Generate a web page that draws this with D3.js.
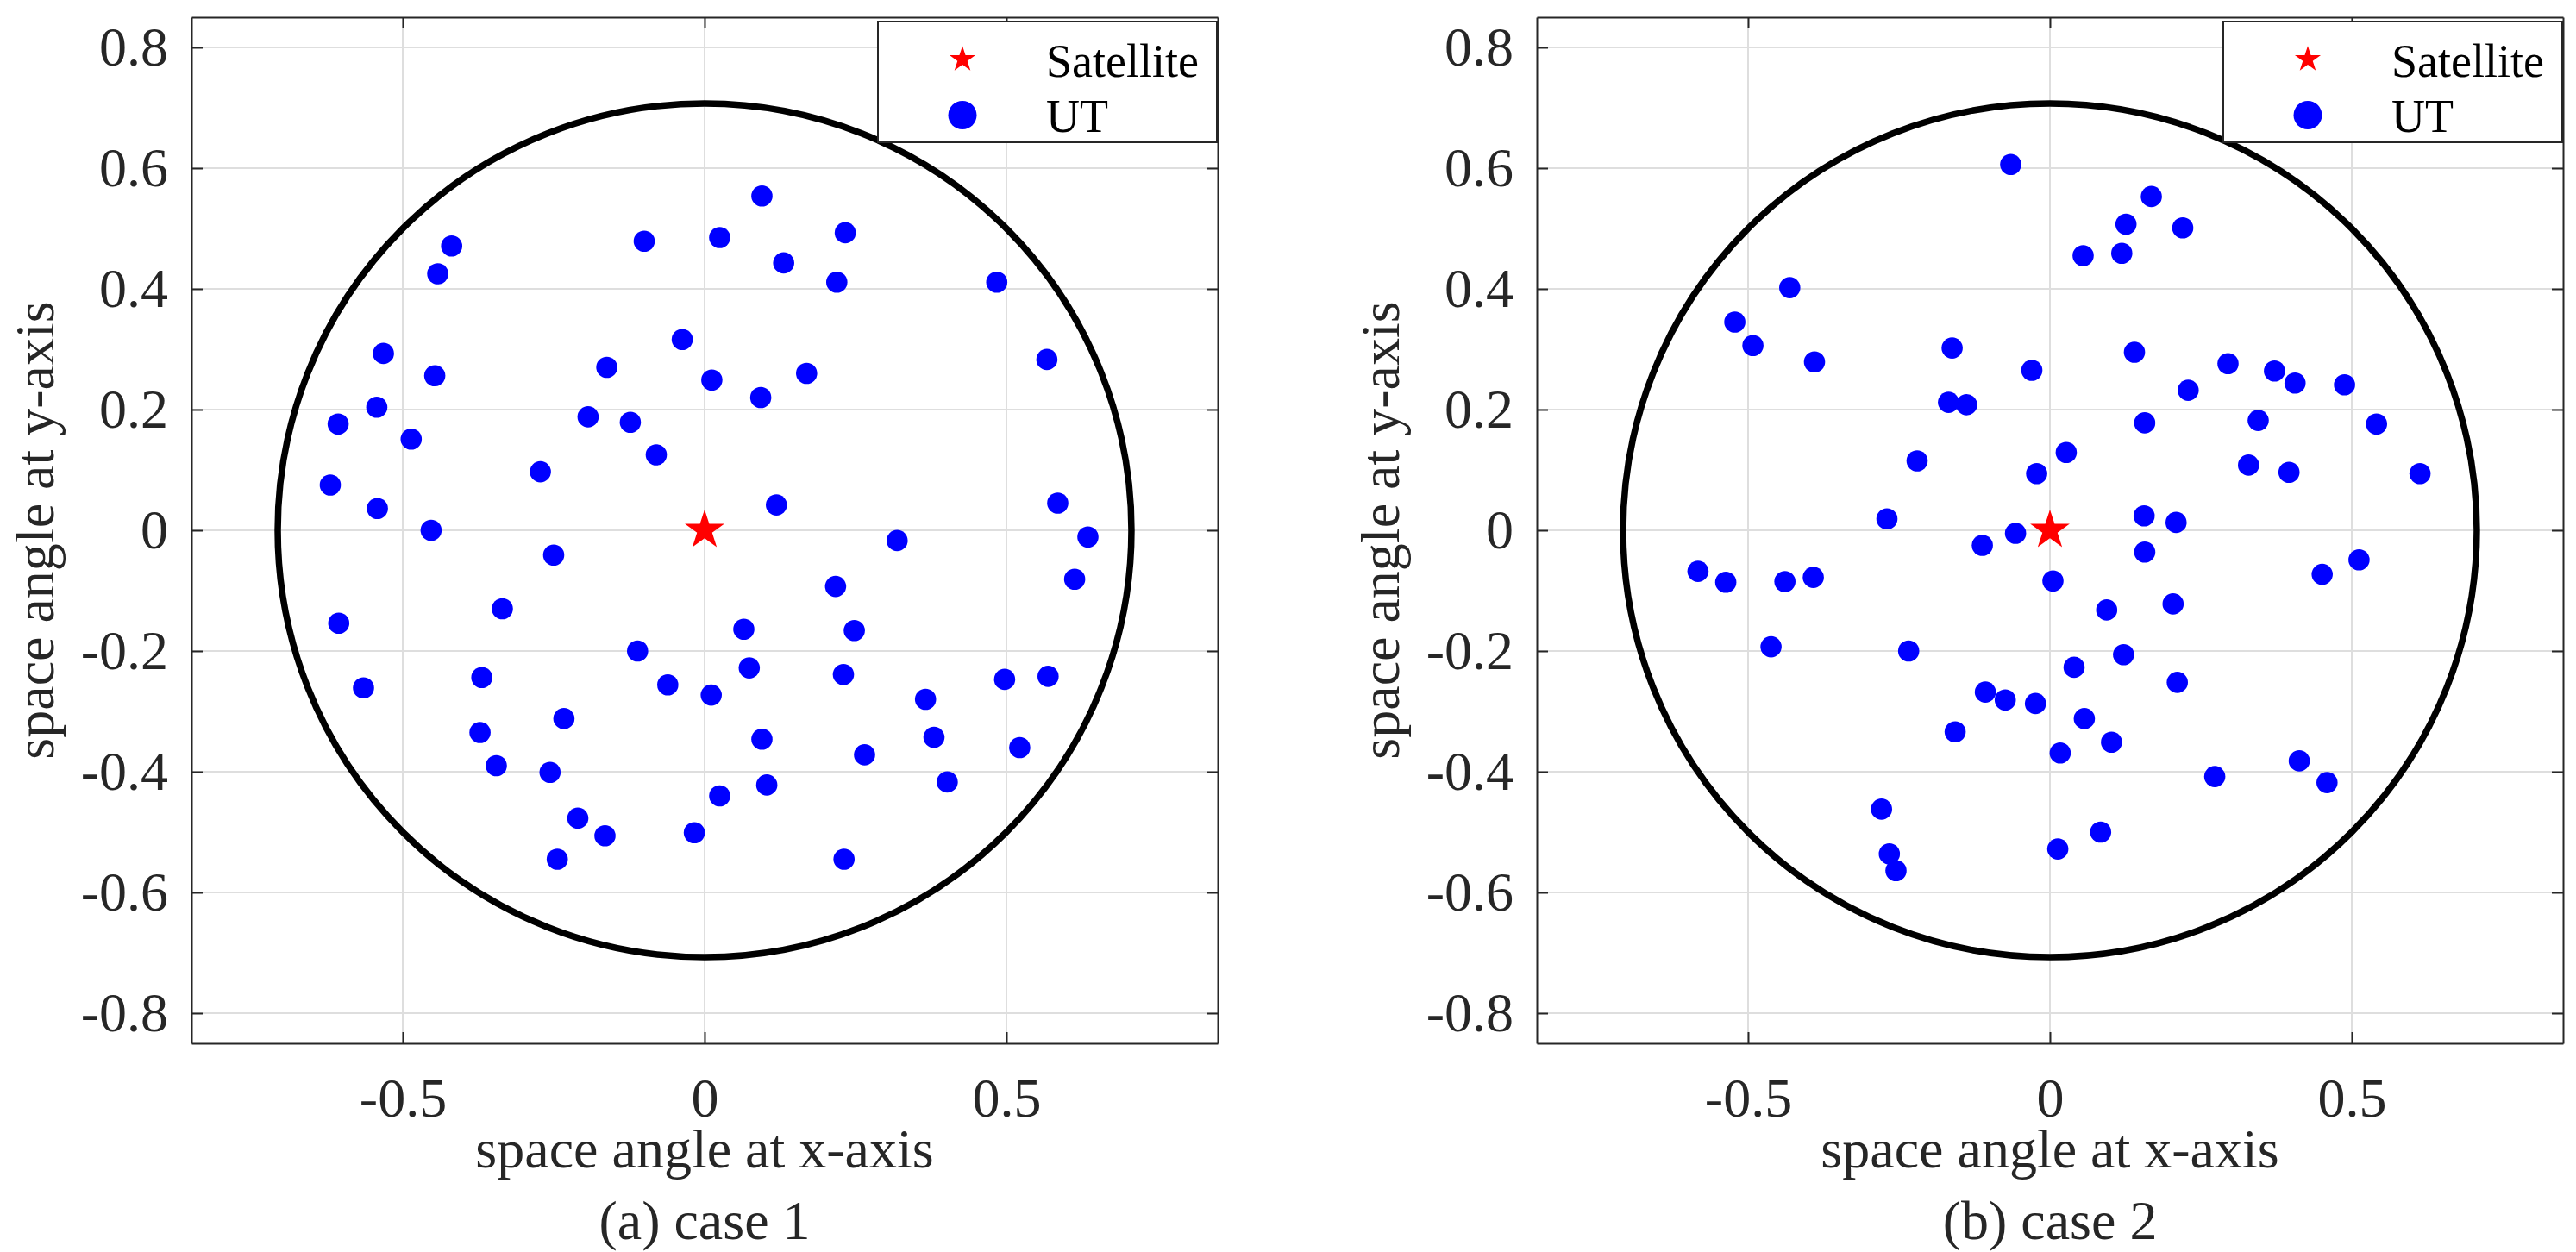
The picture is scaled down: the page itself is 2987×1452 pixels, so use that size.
<!doctype html>
<html>
<head>
<meta charset="utf-8">
<title>space angle</title>
<script src="https://cdn.jsdelivr.net/npm/d3@7"></script>
<style>
  body { margin:0; background:#fff; }
  svg { display:block; font-family:"Liberation Serif","Times New Roman",serif; }
  .grid { stroke:#dedede; stroke-width:2px; }
  .cover { fill:none; stroke:#000; stroke-width:7.5px; }
  .ut { fill:#0000ff; }
  .sat { fill:#ff0000; }
  .axis { color:#262626; }
  .axis path, .axis line { stroke-width:2px; }
  .axis text { font-family:"Liberation Serif","Times New Roman",serif; font-size:64px; }
  .title { font-size:64px; fill:#262626; }
  .legend rect { fill:#fff; stroke:#262626; stroke-width:2px; }
  .legend text { font-size:54px; fill:#000; }
</style>
</head>
<body>
<svg id="fig" width="2987" height="1452"></svg>
<script>

// 축, 눈금
var axisRange = [-0.85, 0.85]
var xTickValues = [-0.5, 0, 0.5]
var xTickLabels = ["-0.5", "0", "0.5"]
var yTickValues = [-0.8, -0.6, -0.4, -0.2, 0, 0.2, 0.4, 0.6, 0.8]
var yTickLabels = ["-0.8", "-0.6", "-0.4", "-0.2", "0", "0.2", "0.4", "0.6", "0.8"]
var xLabel = "space angle at x-axis"
var yLabel = "space angle at y-axis"
var captions = ["(a) case 1", "(b) case 2"]
var legendLabels = ["Satellite", "UT"]

// 위성 위치, 커버리지 반경
var satellitePos = [0, 0]
var coverageRadius = 0.7071

// case 1 UT
var case1X = [-0.419, -0.442, -0.100, -0.037, -0.532, -0.447, -0.162, -0.543, -0.607, -0.486, -0.193, -0.123, -0.080, -0.272, -0.620, -0.542, -0.453,
              0.095, 0.025, 0.233, 0.131, 0.219, 0.484, 0.567, 0.012, 0.169, 0.093, 0.119, 0.585,
              -0.250, -0.335, -0.606, -0.111, -0.369, -0.565, -0.061, -0.233, -0.372, -0.345, -0.256, -0.210, -0.165, -0.244, -0.017,
              0.319, 0.635, 0.217, 0.613, 0.065, 0.248, 0.074, 0.230, 0.011, 0.497, 0.569, 0.366, 0.095, 0.380, 0.265, 0.522, 0.025, 0.103, 0.402, 0.231]
var case1Y = [0.471, 0.425, 0.479, 0.316, 0.293, 0.256, 0.270, 0.204, 0.176, 0.151, 0.188, 0.179, 0.125, 0.097, 0.075, 0.036, 0.000,
              0.554, 0.485, 0.493, 0.443, 0.411, 0.411, 0.283, 0.249, 0.260, 0.220, 0.042, 0.045,
              -0.041, -0.130, -0.154, -0.200, -0.244, -0.261, -0.256, -0.312, -0.335, -0.390, -0.401, -0.477, -0.506, -0.545, -0.501,
              -0.017, -0.011, -0.093, -0.081, -0.164, -0.166, -0.228, -0.239, -0.273, -0.247, -0.242, -0.280, -0.346, -0.343, -0.372, -0.360, -0.440, -0.422, -0.417, -0.545]

// case 2 UT
var case2X = [-0.065, 0.168, 0.126, 0.220, 0.055, 0.119, -0.431, -0.522, -0.492, -0.390, -0.162, -0.030, 0.140, 0.295, 0.372, 0.406,
              0.488, 0.229, -0.168, -0.138, 0.345, 0.157, 0.541, -0.220, 0.027, -0.022, 0.329, 0.396, 0.613, -0.270, 0.156, 0.209,
              -0.057, -0.112, 0.157, 0.512, -0.583, -0.537, -0.439, -0.392, 0.005, 0.451, 0.094, 0.204, -0.462, -0.234, 0.122, 0.040,
              0.211, -0.107, -0.074, -0.024, -0.157, 0.057, 0.102, 0.017, 0.273, 0.413, 0.459, -0.279, -0.266, -0.255, 0.084, 0.013]
var case2Y = [0.606, 0.553, 0.507, 0.501, 0.455, 0.459, 0.402, 0.345, 0.306, 0.279, 0.302, 0.265, 0.295, 0.276, 0.264, 0.244,
              0.241, 0.232, 0.212, 0.208, 0.182, 0.178, 0.176, 0.115, 0.129, 0.094, 0.108, 0.096, 0.094, 0.019, 0.024, 0.013,
              -0.005, -0.025, -0.036, -0.049, -0.068, -0.086, -0.085, -0.078, -0.084, -0.073, -0.132, -0.122, -0.193, -0.200, -0.206, -0.227,
              -0.252, -0.268, -0.281, -0.287, -0.334, -0.312, -0.351, -0.369, -0.408, -0.382, -0.418, -0.462, -0.536, -0.564, -0.500, -0.528]

var svg = d3.select("#fig")
var size = 1190
var plotTop = 20

function drawPanel(left, xs, ys, caption) {
  var x = d3.scaleLinear().domain(axisRange).range([0, size])
  var y = d3.scaleLinear().domain(axisRange).range([size, 0])
  var g = svg.append("g").attr("transform", "translate(" + left + "," + plotTop + ")")

  // 그리드
  g.selectAll(".gx").data(xTickValues).enter().append("line")
    .attr("class", "grid")
    .attr("x1", d => x(d)).attr("x2", d => x(d))
    .attr("y1", 0).attr("y2", size)
  g.selectAll(".gy").data(yTickValues).enter().append("line")
    .attr("class", "grid")
    .attr("x1", 0).attr("x2", size)
    .attr("y1", d => y(d)).attr("y2", d => y(d))

  // 커버리지 원
  g.append("circle")
    .attr("class", "cover")
    .attr("cx", x(satellitePos[0])).attr("cy", y(satellitePos[1]))
    .attr("r", x(coverageRadius) - x(0))

  // UT 점
  g.selectAll(".ut").data(xs).enter().append("circle")
    .attr("class", "ut")
    .attr("cx", d => x(d))
    .attr("cy", (d, i) => y(ys[i]))
    .attr("r", 12.3)

  // 위성
  g.append("path")
    .attr("class", "sat")
    .attr("d", d3.symbol().type(d3.symbolStar).size(650))
    .attr("transform", "translate(" + x(satellitePos[0]) + "," + y(satellitePos[1]) + ")")

  // 축 (안쪽 눈금, 박스)
  g.append("g").attr("class", "axis")
    .attr("transform", "translate(0," + size + ")")
    .call(d3.axisBottom(x).tickValues(xTickValues).tickFormat((d, i) => xTickLabels[i])
      .tickSizeInner(-13).tickSizeOuter(0).tickPadding(40))
  g.append("g").attr("class", "axis")
    .call(d3.axisTop(x).tickValues(xTickValues).tickFormat("")
      .tickSizeInner(-13).tickSizeOuter(0))
  g.append("g").attr("class", "axis")
    .call(d3.axisLeft(y).tickValues(yTickValues).tickFormat((d, i) => yTickLabels[i])
      .tickSizeInner(-13).tickSizeOuter(0).tickPadding(27))
  g.append("g").attr("class", "axis")
    .attr("transform", "translate(" + size + ",0)")
    .call(d3.axisRight(y).tickValues(yTickValues).tickFormat("")
      .tickSizeInner(-13).tickSizeOuter(0))
  g.selectAll(".axis").attr("font-family", null).attr("font-size", null)

  // 축 제목 (두 줄 x 라벨)
  var xl = g.append("text").attr("class", "title")
    .attr("text-anchor", "middle")
    .attr("y", size + 144)
  xl.append("tspan").attr("x", size / 2).text(xLabel)
  xl.append("tspan").attr("x", size / 2).attr("dy", 83).text(caption)
  g.append("text").attr("class", "title")
    .attr("transform", "translate(-160," + (size / 2) + ") rotate(-90)")
    .attr("text-anchor", "middle")
    .text(yLabel)

  // 범례
  var lg = g.append("g").attr("class", "legend")
    .attr("transform", "translate(" + (size - 394) + ",5)")
  lg.append("rect").attr("width", 393).attr("height", 140)
  lg.append("path")
    .attr("class", "sat")
    .attr("d", d3.symbol().type(d3.symbolStar).size(280))
    .attr("transform", "translate(98,44)")
  lg.append("circle").attr("class", "ut").attr("cx", 98).attr("cy", 108.5).attr("r", 16.5)
  lg.selectAll("text").data(legendLabels).enter().append("text")
    .attr("x", 195)
    .attr("y", (d, i) => 63.5 + i * 64.5)
    .text(d => d)
}

drawPanel(222, case1X, case1Y, captions[0])
drawPanel(1782, case2X, case2Y, captions[1])

</script>
</body>
</html>
